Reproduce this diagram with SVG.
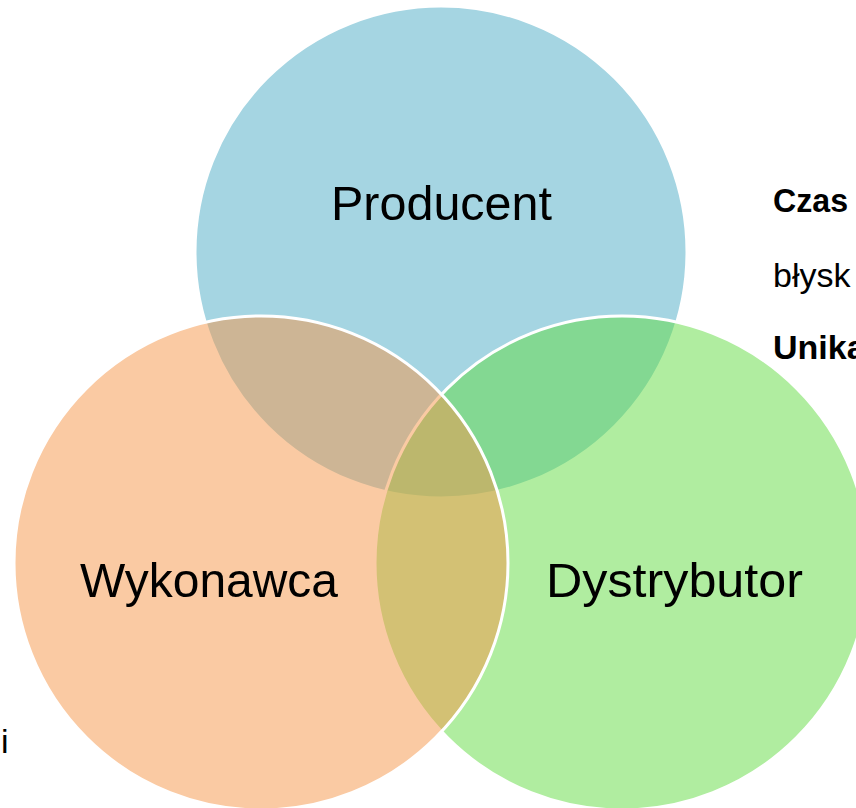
<svg xmlns="http://www.w3.org/2000/svg" width="856" height="808" viewBox="0 0 856 808">
  <style>
    .circle { fill-opacity: 0.5; stroke: #FFFFFF; stroke-width: 3; }
    .label { font-family: "Liberation Sans", Arial, sans-serif; font-size: 49px; fill: #000000; text-anchor: middle; }
    .side { font-family: "Liberation Sans", Arial, sans-serif; font-size: 34px; fill: #000000; }
    .bold { font-weight: bold; }
  </style>
  <rect x="0" y="0" width="856" height="808" fill="#FFFFFF"/>
  <g id="side-texts">
    <text class="side bold" x="773" y="212" textLength="75" lengthAdjust="spacingAndGlyphs">Czas</text>
    <text class="side" x="773" y="287">błysk</text>
    <text class="side bold" x="773" y="359">Unika</text>
    <text class="side" x="1" y="753">i</text>
  </g>
  <g id="producent">
    <circle class="circle" cx="441" cy="252" r="246" fill="#4BABC5"/>
  </g>
  <g id="dystrybutor">
    <circle class="circle" cx="622" cy="563" r="247" fill="#61DB41"/>
  </g>
  <g id="wykonawca">
    <circle class="circle" cx="261" cy="563" r="247" fill="#F59547"/>
  </g>
  <g id="connectors"></g>
  <g id="labels">
    <text class="label" x="441.5" y="220" textLength="221" lengthAdjust="spacingAndGlyphs">Producent</text>
    <text class="label" x="209" y="597" textLength="258" lengthAdjust="spacingAndGlyphs">Wykonawca</text>
    <text class="label" x="674.5" y="597" textLength="257" lengthAdjust="spacingAndGlyphs">Dystrybutor</text>
  </g>
</svg>
